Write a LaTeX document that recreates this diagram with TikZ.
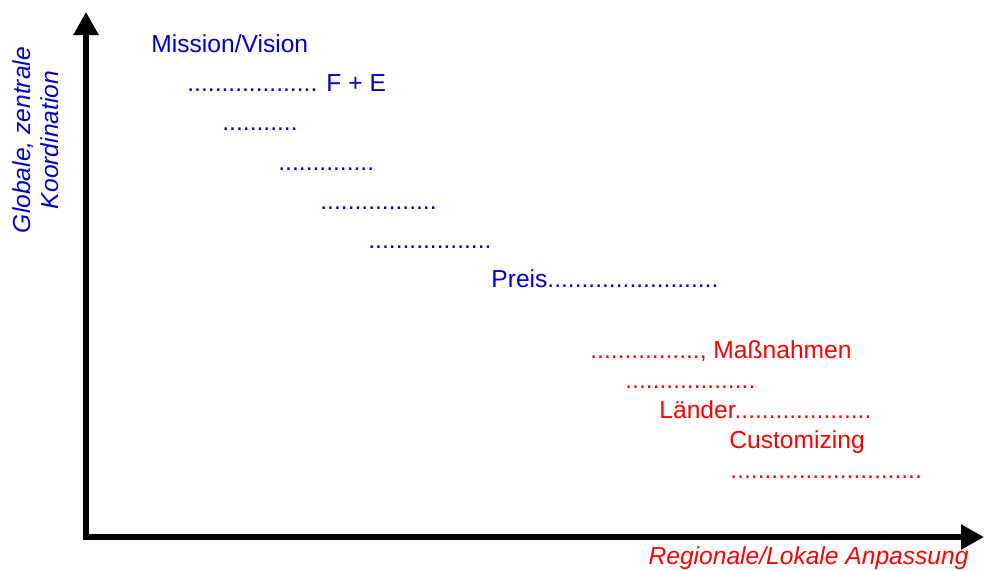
\documentclass[tikz,border=0pt]{standalone}
\usepackage{fontspec}
\setmainfont{Liberation Sans}
\usepackage{xcolor}
\usepackage{tikz}
\usetikzlibrary{arrows.meta,positioning}

\definecolor{centralblue}{RGB}{0,0,204}
\definecolor{localred}{RGB}{255,0,0}

\begin{document}
\begin{tikzpicture}[x=0.5pt, y=-0.5pt,
    every node/.style={inner sep=0pt, font=\fontsize{12.3}{14}\selectfont},
    central/.style={anchor=base west, text=centralblue},
    local/.style={anchor=base west, text=localred},
    axis/.style={line width=3pt, {Triangle[length=11.5pt,width=12pt]}-{Triangle[length=11.5pt,width=12pt]}}]
    \useasboundingbox (0,0) rectangle (984,570);

    % Axes
    \coordinate (ytip) at (86,12);
    \coordinate (xtip) at (984,537);
    \draw[axis] (ytip) |- (xtip);

    \node [rotate=90, align=center, text=centralblue, font=\fontsize{12.3}{14}\selectfont\itshape] (ylabel) at (36,140) {Globale, zentrale\\Koordination};
    \node [anchor=base east, text=localred, font=\fontsize{12.3}{14}\selectfont\itshape] (xlabel) at (969,564) {Regionale/Lokale Anpassung};

    % Global items
    \node [central] (mission) at (151,52) {Mission/Vision};
    \node [central] (fe) at (187,91) {................... F + E};
    \node [central] (c1) at (222,130) {...........};
    \node [central] (c2) at (278,170) {..............};
    \node [central] (c3) at (320,209) {.................};
    \node [central] (c4) at (368,248) {..................};
    \node [central] (preis) at (491,287) {Preis.........................};

    % Local items
    \node [local] (massnahmen) at (590,358) {................, Maßnahmen};
    \node [local] (l1) at (625,388) {...................};
    \node [local] (laender) at (659,418) {Länder....................};
    \node [local] (customizing) at (729,448) {Customizing};
    \node [local] (l2) at (730,478) {............................};

\end{tikzpicture}
\end{document}
